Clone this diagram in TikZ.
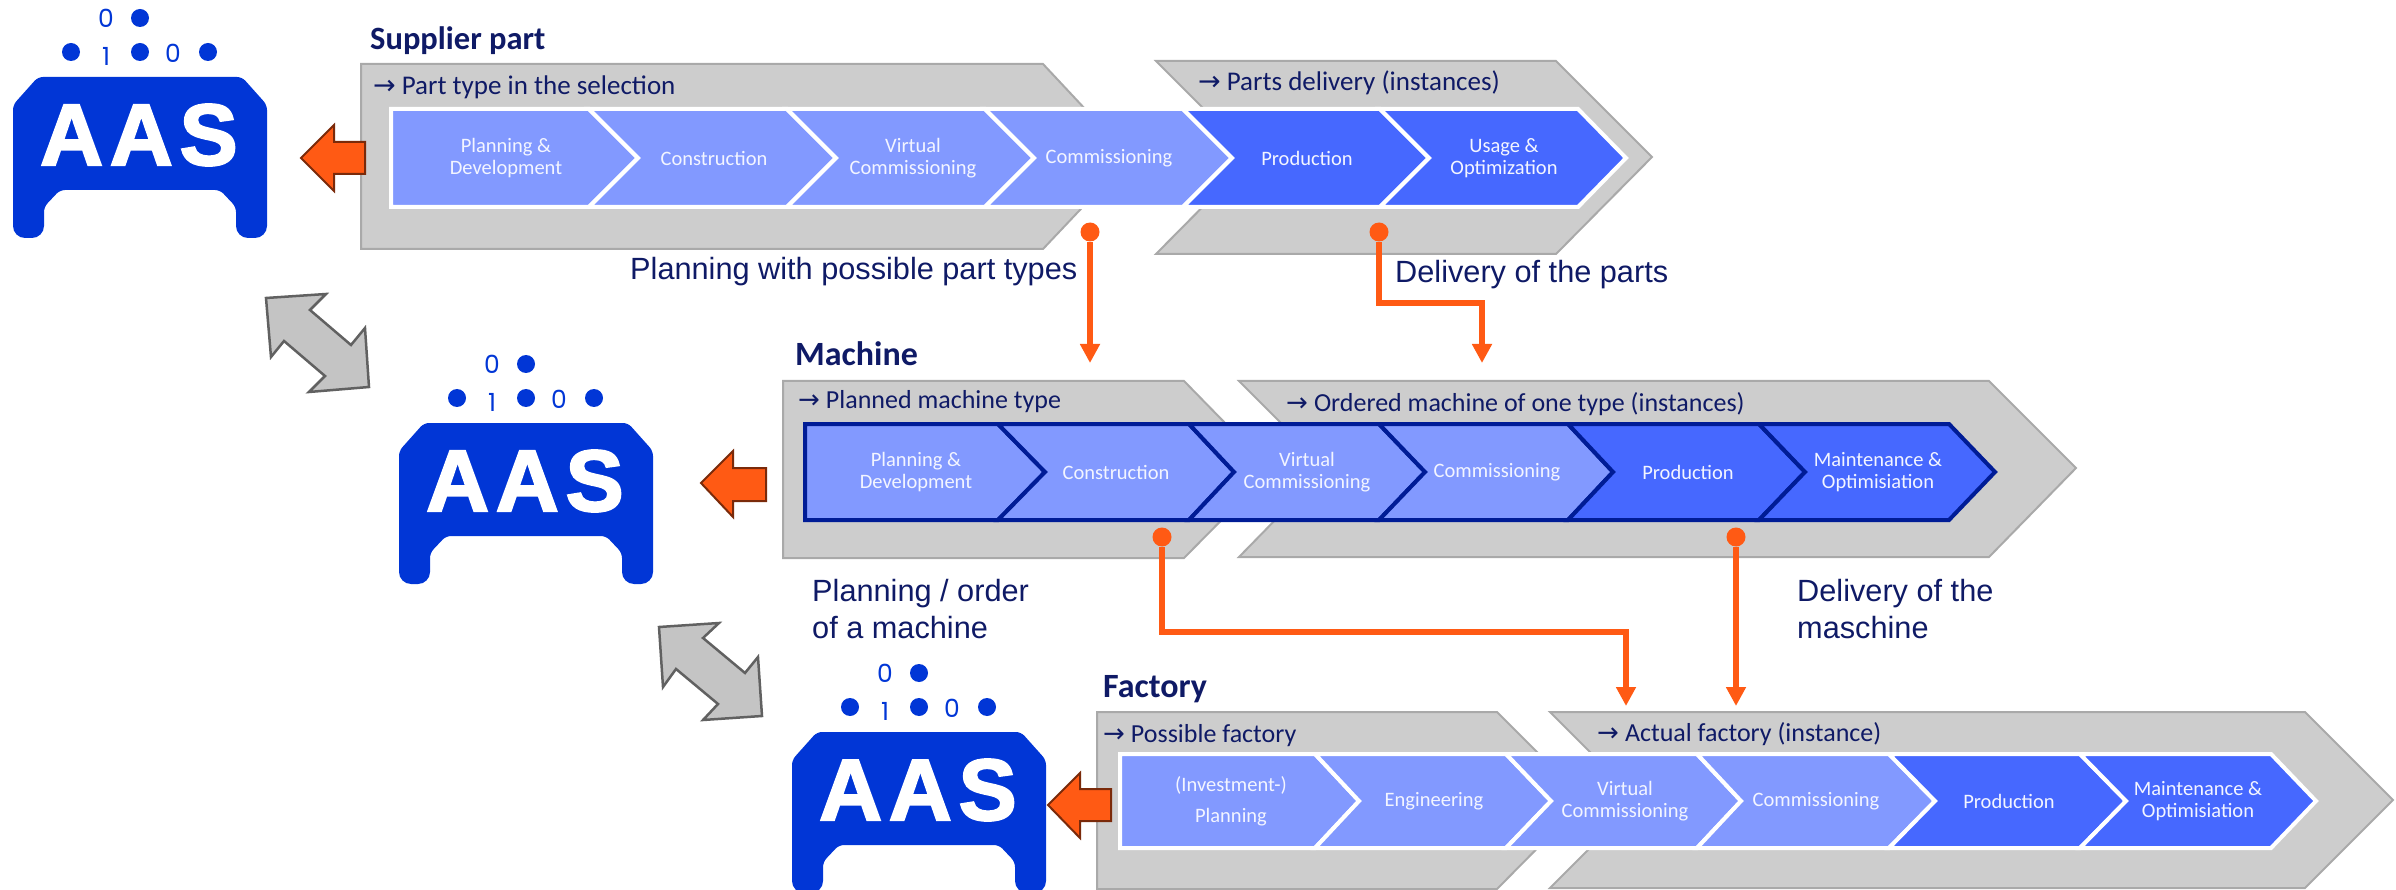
\documentclass[tikz,border=0pt]{standalone}
\usepackage{fontspec}
\setmainfont{Carlito}
\newfontfamily\labelfont{Liberation Sans}
\newfontfamily\symbolfont{DejaVu Sans}
\newfontfamily\digitfont{Poppins}
\newfontfamily\aasfont{Liberation Sans Bold}[LetterSpace=8,FakeBold=2.5]
\usetikzlibrary{arrows.meta, calc}
\definecolor{bandgrey}{HTML}{CDCDCD}
\definecolor{bandedge}{HTML}{A9A9A9}
\definecolor{seglightblue}{HTML}{8299FF}
\definecolor{segdarkblue}{HTML}{4668FF}
\definecolor{navy}{HTML}{0F1A66}
\definecolor{machineline}{HTML}{001C96}
\definecolor{aasblue}{HTML}{0136D6}
\definecolor{signal}{HTML}{FF5A14}
\definecolor{signaledge}{HTML}{7A2A0A}
\newcommand{\toarrow}{{\symbolfont →}\kern6pt\relax}
\tikzstyle{phase} = [fill=bandgrey, draw=bandedge, line width=2pt, line join=miter]
\tikzstyle{seg} = [line width=4pt, line join=miter, draw=white]
\tikzstyle{segm} = [line width=4pt, line join=miter, draw=machineline]
\tikzstyle{segtext} = [inner sep=0pt, align=center, text=white!90!seglightblue, font=\fontsize{20.5}{22}\selectfont]
\tikzstyle{title} = [inner sep=0pt, anchor=base west, text=navy, font=\fontsize{34}{36}\selectfont\bfseries]
\tikzstyle{phasetext} = [inner sep=0pt, anchor=base west, text=navy, font=\fontsize{26}{30}\selectfont]
\tikzstyle{note} = [inner sep=0pt, anchor=base west, align=left, text=navy, font=\labelfont\fontsize{30.7}{37}\selectfont]
\tikzstyle{dot} = [circle, fill=signal, inner sep=0pt, minimum size=19pt]
\tikzstyle{conn} = [draw=signal, line width=5.5pt, -{Triangle[width=19pt, length=19pt]}]
\tikzstyle{blockarrow} = [fill=signal, draw=signaledge, line width=2pt, line join=miter]
\tikzstyle{twoway} = [fill=black!23, draw=black!62, line width=2.5pt, line join=miter]
\tikzset{
    aasbadge/.pic={
        \fill[aasblue, rounded corners=5pt] (-102,0) -- (102,0) -- (127,28) [rounded corners=12pt] -- (127,161) -- (96,161) [rounded corners=5pt] -- (96,130) -- (80,113) -- (-80,113) -- (-96,130) [rounded corners=12pt] -- (-96,161) -- (-127,161) [rounded corners=5pt] -- (-127,28) -- cycle;
        \node[inner sep=0pt, text=white, font=\aasfont\fontsize{87}{87}\selectfont] (-name) at (-1,58) {AAS};
        \fill[aasblue] (-69,-25) circle (9pt) (0,-25) circle (9pt) (68,-25) circle (9pt) (0,-59) circle (9pt);
        \node[inner sep=0pt, text=aasblue, font=\digitfont\fontsize{25}{25}\selectfont] (-one) at (-34,-21) {1};
        \node[inner sep=0pt, text=aasblue, font=\digitfont\fontsize{25}{25}\selectfont] (-zero) at (33,-24) {0};
        \node[inner sep=0pt, text=aasblue, font=\digitfont\fontsize{25}{25}\selectfont] (-top) at (-34,-59) {0};
    }
}

\begin{document}
\begin{tikzpicture}[x=1pt, y=-1pt]
    \useasboundingbox (0,0) rectangle (2396,890);

    % Supplier part
    \draw[phase] (361,64) -- (1043,64) -- (1130,157) -- (1043,249) -- (361,249) -- cycle;
    \draw[phase] (1156,61) -- (1556,61) -- (1652,157) -- (1556,254) -- (1156,254) -- (1252,157) -- cycle;
    \node[title, font=\fontsize{32.5}{36}\selectfont\bfseries] (title_s) at (370,50) {Supplier part};
    \node[phasetext, font=\fontsize{27}{30}\selectfont] (type_s) at (373,95) {\toarrow Part type in the selection};
    \node[phasetext, font=\fontsize{27}{30}\selectfont] (inst_s) at (1198,91) {\toarrow Parts delivery (instances)};
    \draw[seg, fill=seglightblue] (391,109) -- (589,109) -- (638,158) -- (589,207) -- (391,207) -- cycle;
    \draw[seg, fill=seglightblue] (589,109) -- (787,109) -- (836,158) -- (787,207) -- (589,207) -- (638,158) -- cycle;
    \draw[seg, fill=seglightblue] (787,109) -- (985,109) -- (1034,158) -- (985,207) -- (787,207) -- (836,158) -- cycle;
    \draw[seg, fill=seglightblue] (985,109) -- (1183,109) -- (1232,158) -- (1183,207) -- (985,207) -- (1034,158) -- cycle;
    \draw[seg, fill=segdarkblue] (1183,109) -- (1380,109) -- (1429,158) -- (1380,207) -- (1183,207) -- (1232,158) -- cycle;
    \draw[seg, fill=segdarkblue] (1380,109) -- (1578,109) -- (1626,158) -- (1578,207) -- (1380,207) -- (1429,158) -- cycle;
    \node[segtext] (s1) at (506,158) {Planning \&\\Development};
    \node[segtext] (s2) at (714,158) {Construction};
    \node[segtext] (s3) at (913,158) {Virtual\\Commissioning};
    \node[segtext] (s4) at (1109,158) {Commissioning};
    \node[segtext] (s5) at (1307,158) {Production};
    \node[segtext] (s6) at (1504,158) {Usage \&\\Optimization};

    % Machine
    \draw[phase] (783,381) -- (1184,381) -- (1271,470) -- (1184,558) -- (783,558) -- cycle;
    \draw[phase] (1239,381) -- (1989,381) -- (2076,468) -- (1989,557) -- (1239,557) -- (1326,468) -- cycle;
    \node[title] (title_m) at (795,366) {Machine};
    \node[phasetext] (type_m) at (798,409) {\toarrow Planned machine type};
    \node[phasetext] (inst_m) at (1286,411) {\toarrow Ordered machine of one type (instances)};
    \draw[segm, fill=seglightblue] (805,424) -- (998,424) -- (1045,472) -- (998,520) -- (805,520) -- cycle;
    \draw[segm, fill=seglightblue] (998,424) -- (1189,424) -- (1234,472) -- (1189,520) -- (998,520) -- (1045,472) -- cycle;
    \draw[segm, fill=seglightblue] (1189,424) -- (1379,424) -- (1425,472) -- (1379,520) -- (1189,520) -- (1234,472) -- cycle;
    \draw[segm, fill=seglightblue] (1379,424) -- (1568,424) -- (1613,472) -- (1568,520) -- (1379,520) -- (1425,472) -- cycle;
    \draw[segm, fill=segdarkblue] (1568,424) -- (1759,424) -- (1805,472) -- (1759,520) -- (1568,520) -- (1613,472) -- cycle;
    \draw[segm, fill=segdarkblue] (1759,424) -- (1949,424) -- (1995,472) -- (1949,520) -- (1759,520) -- (1805,472) -- cycle;
    \node[segtext] (m1) at (916,472) {Planning \&\\Development};
    \node[segtext] (m2) at (1116,472) {Construction};
    \node[segtext] (m3) at (1307,472) {Virtual\\Commissioning};
    \node[segtext] (m4) at (1497,472) {Commissioning};
    \node[segtext] (m5) at (1688,472) {Production};
    \node[segtext] (m6) at (1878,472) {Maintenance \&\\Optimisiation};

    % Factory
    \draw[phase] (1097,712) -- (1497,712) -- (1585,800) -- (1497,889) -- (1097,889) -- cycle;
    \draw[phase] (1550,712) -- (2305,712) -- (2393,800) -- (2305,888) -- (1550,888) -- (1638,800) -- cycle;
    \node[title] (title_f) at (1103,697) {Factory};
    \node[phasetext] (type_f) at (1103,742) {\toarrow Possible factory};
    \node[phasetext] (inst_f) at (1597,741) {\toarrow Actual factory (instance)};
    \draw[seg, fill=seglightblue] (1120,754) -- (1315,754) -- (1359,801) -- (1315,848) -- (1120,848) -- cycle;
    \draw[seg, fill=seglightblue] (1315,754) -- (1506,754) -- (1551,801) -- (1506,848) -- (1315,848) -- (1359,801) -- cycle;
    \draw[seg, fill=seglightblue] (1506,754) -- (1697,754) -- (1741,801) -- (1697,848) -- (1506,848) -- (1551,801) -- cycle;
    \draw[seg, fill=seglightblue] (1697,754) -- (1889,754) -- (1935,801) -- (1889,848) -- (1697,848) -- (1741,801) -- cycle;
    \draw[seg, fill=segdarkblue] (1889,754) -- (2080,754) -- (2126,801) -- (2080,848) -- (1889,848) -- (1935,801) -- cycle;
    \draw[seg, fill=segdarkblue] (2080,754) -- (2271,754) -- (2316,801) -- (2271,848) -- (2080,848) -- (2126,801) -- cycle;
    \node[segtext] (f1) at (1231,801) {(Investment-)\\[9pt]Planning};
    \node[segtext] (f2) at (1434,801) {Engineering};
    \node[segtext] (f3) at (1625,801) {Virtual\\Commissioning};
    \node[segtext] (f4) at (1816,801) {Commissioning};
    \node[segtext] (f5) at (2009,801) {Production};
    \node[segtext] (f6) at (2198,801) {Maintenance \&\\Optimisiation};

    % AAS badges
    \pic (aas_s) at (140,77) {aasbadge};
    \pic (aas_m) at (526,423) {aasbadge};
    \pic (aas_f) at (919,732) {aasbadge};

    % Badge arrows
    \draw[blockarrow] (301,158) -- (334,125) -- (334,142) -- (365,142) -- (365,174) -- (334,174) -- (334,191) -- cycle;
    \draw[blockarrow] (701,483) -- (733,451) -- (733,468) -- (766,468) -- (766,501) -- (733,501) -- (733,517) -- cycle;
    \draw[blockarrow] (1048,805) -- (1080,773) -- (1080,789) -- (1111,789) -- (1111,821) -- (1080,821) -- (1080,838) -- cycle;
    \draw[twoway] (266,298) -- (326,294) -- (310,310) -- (351,345) -- (365,328) -- (369,387) -- (309,392) -- (325,376) -- (284,341) -- (271,357) -- cycle;
    \draw[twoway] (659,627) -- (719,623) -- (703,638) -- (745,673) -- (758,657) -- (762,716) -- (703,720) -- (718,704) -- (676,669) -- (663,687) -- cycle;

    % Connections
    \node[dot] (dot_a) at (1090,232) {};
    \node[dot] (dot_b) at (1379,232) {};
    \node[dot] (dot_c) at (1162,537) {};
    \node[dot] (dot_d) at (1736,537) {};
    \coordinate (in_a) at (1090,363);
    \coordinate (in_b) at (1482,363);
    \coordinate (in_c) at (1626,706);
    \coordinate (in_d) at (1736,706);
    \draw[conn] (dot_a) -- (in_a);
    \draw[conn] (dot_b) -- ++(0,71) -| (in_b);
    \draw[conn] (dot_c) -- ++(0,95) -| (in_c);
    \draw[conn] (dot_d) -- (in_d);

    % Notes
    \node[note] (note_a) at (630,280) {Planning with possible part types};
    \node[note] (note_b) at (1395,283) {Delivery of the parts};
    \node[note, anchor=west] (note_c) at (812,609) {Planning / order\\of a machine};
    \node[note, anchor=west] (note_d) at (1797,609) {Delivery of the\\maschine};
\end{tikzpicture}
\end{document}
